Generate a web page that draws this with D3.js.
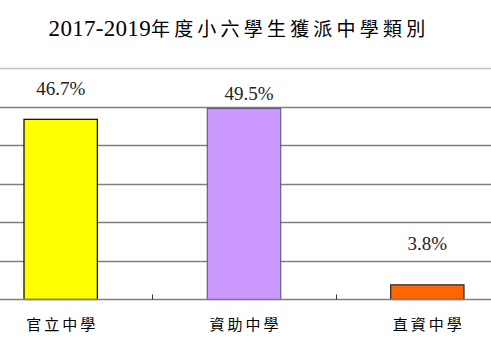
<!DOCTYPE html>
<html>
<head>
<meta charset="utf-8">
<script src="https://cdn.jsdelivr.net/npm/d3@7"></script>
<style>
    body { margin: 0; background: #fff; }
</style>
</head>
<body>
<div id="chart"></div>
<script>
// data
var categories = ["官立中學", "資助中學", "直資中學"];
var values = [46.7, 49.5, 3.8];
var valueLabels = ["46.7%", "49.5%", "3.8%"];
var yTicks = [10, 20, 30, 40, 50, 60];

var width = 491;
var height = 359;

var barColors = ["#ffff00", "#cc99ff", "#ff6600"];
var barStrokes = ["#000000", "#6a5a86", "#222222"];
// labels were nudged by hand in the original
var labelShift = [24, 9, 35];

var svg = d3.select("#chart")
    .append("svg")
    .attr("width", width)
    .attr("height", height);

var x = d3.scaleBand()
    .domain(categories)
    .range([-31, 519])
    .paddingInner(0.6)
    .paddingOuter(0.3);

var y = d3.scaleLinear()
    .domain([0, 60])
    .range([299.5, 68]);

// gridlines
svg.append("g")
    .selectAll("line")
    .data(yTicks)
    .enter()
    .append("line")
    .attr("x1", 0)
    .attr("x2", width)
    .attr("y1", function (d) { return Math.round(y(d)) + 0.5; })
    .attr("y2", function (d) { return Math.round(y(d)) + 0.5; })
    .attr("stroke", function (d) { return d === 60 ? "#c0c0c0" : "#7f7f7f"; })
    .attr("stroke-width", 1.3);

// bars
svg.append("g")
    .selectAll("rect")
    .data(values)
    .enter()
    .append("rect")
    .attr("x", function (d, i) { return x(categories[i]); })
    .attr("width", x.bandwidth())
    .attr("y", function (d) { return y(d); })
    .attr("height", function (d) { return y(0) - y(d); })
    .attr("fill", function (d, i) { return barColors[i]; })
    .attr("stroke", function (d, i) { return barStrokes[i]; })
    .attr("stroke-width", 1.2);

// category axis
svg.append("line")
    .attr("x1", 0)
    .attr("x2", width)
    .attr("y1", y(0))
    .attr("y2", y(0))
    .attr("stroke", "#7f7f7f")
    .attr("stroke-width", 1.3);

var step = x.step();
svg.append("g")
    .selectAll("line")
    .data(categories.slice(1))
    .enter()
    .append("line")
    .attr("x1", function (d) { return Math.round(x(d) - step * x.paddingInner() / 2) + 0.5; })
    .attr("x2", function (d) { return Math.round(x(d) - step * x.paddingInner() / 2) + 0.5; })
    .attr("y1", y(0))
    .attr("y2", y(0) - 5)
    .attr("stroke", "#333")
    .attr("stroke-width", 1);

svg.append("g")
    .selectAll("text")
    .data(categories)
    .enter()
    .append("text")
    .attr("x", function (d) { return x(d) + x.bandwidth() / 2 + 1.5; })
    .attr("y", 330)
    .attr("text-anchor", "middle")
    .style("font-family", "'Noto Sans CJK TC', sans-serif")
    .style("font-size", "15px")
    .style("letter-spacing", "3px")
    .style("fill", "#000")
    .text(function (d) { return d; });

// value labels
svg.append("g")
    .selectAll("text")
    .data(values)
    .enter()
    .append("text")
    .attr("x", function (d, i) { return x(categories[i]) + x.bandwidth() / 2 + (i === 1 ? 5 : 0); })
    .attr("y", function (d, i) { return y(d) - labelShift[i]; })
    .attr("text-anchor", "middle")
    .style("font-family", "'Liberation Serif', serif")
    .style("font-size", "19px")
    .style("fill", "#222")
    .text(function (d, i) { return valueLabels[i]; });

// title
var title = svg.append("text")
    .attr("x", 239)
    .attr("y", 36)
    .attr("text-anchor", "middle");
title.append("tspan")
    .style("font-family", "'Liberation Serif', serif")
    .style("font-size", "23px")
    .style("letter-spacing", "0.3px")
    .text("2017-2019");
title.append("tspan")
    .style("font-family", "'Noto Sans CJK TC', sans-serif")
    .style("font-size", "19px")
    .style("letter-spacing", "4.2px")
    .text("年度小六學生獲派中學類別");
</script>
</body>
</html>
